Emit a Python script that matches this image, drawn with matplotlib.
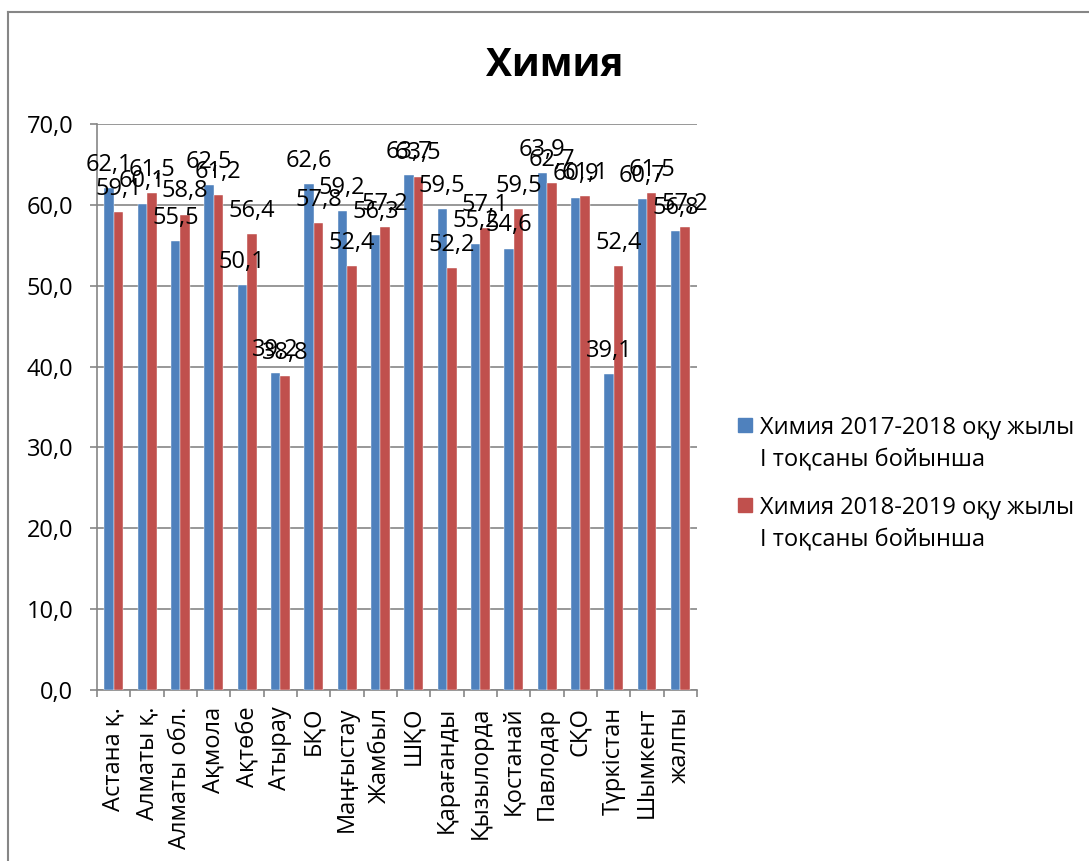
import numpy as np
import matplotlib
matplotlib.use("Agg")
import matplotlib.pyplot as plt
from matplotlib.lines import Line2D
from matplotlib.patches import Rectangle

plt.rcParams['font.family'] = ['Open Sans', 'Noto Sans', 'DejaVu Sans']

REGIONS = ["Астана қ.", "Алматы қ.", "Алматы обл.", "Ақмола", "Ақтөбе", "Атырау",
           "БҚО", "Маңғыстау", "Жамбыл", "ШҚО", "Қарағанды", "Қызылорда",
           "Қостанай", "Павлодар", "СҚО", "Түркістан", "Шымкент", "жалпы"]
Y2018 = [62.1, 60.1, 55.5, 62.5, 50.1, 39.2, 62.6, 59.2, 56.3, 63.7, 59.5, 55.2,
         54.6, 63.9, 60.9, 39.1, 60.7, 56.8]
Y2019 = [59.1, 61.5, 58.8, 61.2, 56.4, 38.8, 57.8, 52.4, 57.2, 63.5, 52.2, 57.1,
         59.5, 62.7, 61.1, 52.4, 61.5, 57.2]
SERIES = ["Химия 2017-2018 оқу жылы\nI тоқсаны бойынша",
          "Химия 2018-2019 оқу жылы\nI тоқсаны бойынша"]
Y_TICKS = [0, 10, 20, 30, 40, 50, 60, 70]

BLUE = "#4F81BD"
RED = "#C0504D"
GRAY = "#868686"
FS = 17
W, H = 1089, 861


def fmt(v):
    return f"{v:.1f}".replace(".", ",")


fig = plt.figure(figsize=(W / 100, H / 100), dpi=100)
ax = fig.add_axes([97 / W, 1 - 690 / H, 600 / W, 566 / H])

x = np.arange(len(REGIONS))
w = 0.285
b1 = ax.bar(x - w / 2, Y2018, w, color=BLUE, edgecolor="white", linewidth=0.3, zorder=3)
b2 = ax.bar(x + w / 2, Y2019, w, color=RED, edgecolor="white", linewidth=0.3, zorder=3)

ax.bar_label(b1, labels=[fmt(v) for v in Y2018], padding=8, fontsize=FS, zorder=5)
ax.bar_label(b2, labels=[fmt(v) for v in Y2019], padding=8, fontsize=FS, zorder=5)

ax.set_xlim(-0.5, len(REGIONS) - 0.5)
ax.set_ylim(0, 70)
ax.set_yticks(Y_TICKS)
ax.set_yticklabels([fmt(v) for v in Y_TICKS], fontsize=FS)
ax.grid(axis="y", color=GRAY, linewidth=1.2, zorder=0)
ax.set_axisbelow(True)

ax.set_xticks(x)
ax.set_xticklabels(REGIONS, rotation=90, fontsize=FS)
ax.set_xticks(np.arange(len(REGIONS) + 1) - 0.5, minor=True)
ax.tick_params(axis="x", which="major", length=0, pad=12)
ax.tick_params(axis="x", which="minor", length=5, color=GRAY, width=1.2)
ax.tick_params(axis="y", length=5, color=GRAY, width=1.2, pad=12)

for s in ["top", "right"]:
    ax.spines[s].set_visible(False)
for s in ["left", "bottom"]:
    ax.spines[s].set_color(GRAY)
    ax.spines[s].set_linewidth(1.2)

fig.text(555 / W, 1 - 65 / H, "Химия", fontsize=28, fontweight="bold",
         ha="center", va="center")

# legend, drawn like Excel: marker next to the first line of each entry
for i, (name, col) in enumerate(zip(SERIES, [BLUE, RED])):
    y0 = 425 + i * 80
    fig.add_artist(Rectangle((738 / W, 1 - (y0 + 7) / H), 14 / W, 14 / H,
                             color=col, transform=fig.transFigure))
    for j, line in enumerate(name.split("\n")):
        fig.text(760 / W, 1 - (y0 + j * 32) / H, line, fontsize=FS,
                 ha="left", va="center_baseline")

# chart area border
fig.add_artist(Line2D([8 / W, 1], [1 - 12 / H, 1 - 12 / H], color=GRAY,
                      linewidth=1.5, transform=fig.transFigure))
fig.add_artist(Line2D([8 / W, 8 / W], [0, 1 - 12 / H], color=GRAY,
                      linewidth=1.5, transform=fig.transFigure))

fig.savefig("out.png", dpi=100)
